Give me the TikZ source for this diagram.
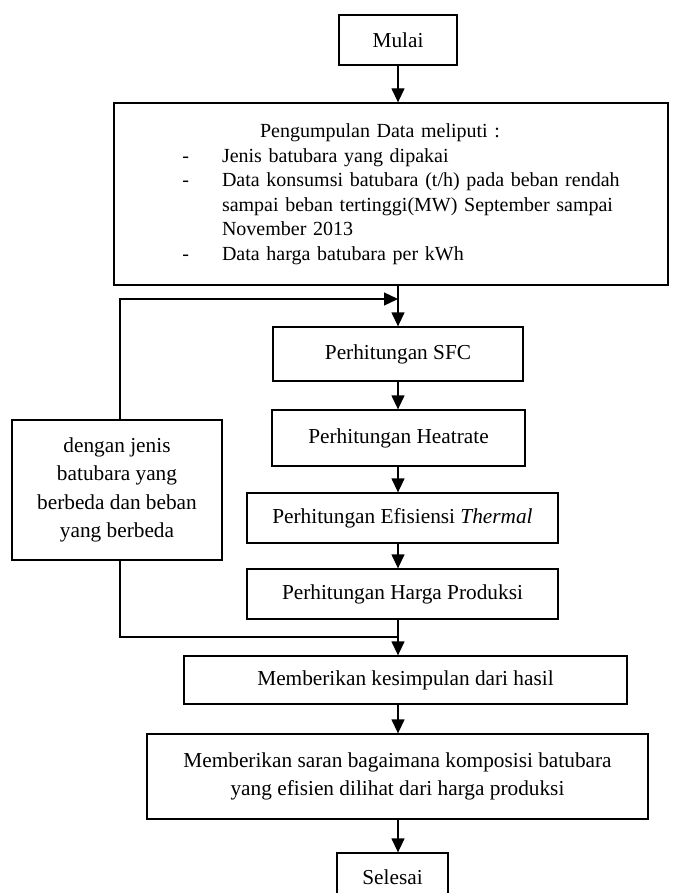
\documentclass[tikz,border=0pt]{standalone}
\usepackage{fontspec}
\setmainfont{Liberation Serif}
\usetikzlibrary{arrows.meta}

\tikzset{
  box/.style={draw, line width=1.3pt, rectangle, align=center,
    font=\fontsize{21.3}{24.5}\selectfont},
  flow/.style={line width=1.3pt, -{Triangle[length=14pt,width=13pt]}},
  garis/.style={line width=1.3pt}
}

\begin{document}
\begin{tikzpicture}[x=1pt,y=-1pt]
  \useasboundingbox (0,0) rectangle (672,893);

  % kotak-kotak
  \node[box, minimum width=118, minimum height=50] (mulai) at (398,40) {Mulai};
  \node[draw, line width=1.3pt, rectangle, minimum width=554, minimum height=182,
        text width=554, inner sep=0pt, font=\fontsize{20}{24.5}\selectfont] (data) at (391,194) {%
    \noindent\hspace*{146pt}Pengumpulan Data meliputi :\par
    \begin{list}{-}{\leftmargin=108pt \rightmargin=48pt \labelwidth=40pt \labelsep=33pt
        \topsep=0pt \partopsep=0pt \itemsep=0pt \parsep=0pt}
      \item Jenis batubara yang dipakai
      \item Data konsumsi batubara (t/h) pada beban rendah sampai beban tertinggi(MW) September sampai November 2013
      \item Data harga batubara per kWh
    \end{list}};
  \node[box, minimum width=250, minimum height=54] (sfc) at (398,354) {Perhitungan SFC};
  \node[box, minimum width=253, minimum height=56] (heat) at (398.5,438) {Perhitungan Heatrate};
  \node[box, minimum width=311, minimum height=50] (efis) at (402.5,518) {Perhitungan Efisiensi \textit{Thermal}};
  \node[box, minimum width=311, minimum height=50] (harga) at (402.5,594) {Perhitungan Harga Produksi};
  \node[box, minimum width=210, minimum height=140, font=\fontsize{21.3}{28.3}\selectfont] (ulang) at (117,490)
    {dengan jenis\\batubara yang\\berbeda dan beban\\yang berbeda};
  \node[box, minimum width=443, minimum height=48] (simpul) at (405.5,680) {Memberikan kesimpulan dari hasil};
  \node[box, minimum width=501, minimum height=85, font=\fontsize{21.3}{28.3}\selectfont] (saran) at (397.5,776.5)
    {Memberikan saran bagaimana komposisi batubara\\yang efisien dilihat dari harga produksi};
  \node[box, minimum width=111, minimum height=48] (selesai) at (392.5,877) {Selesai};

  % titik sambungan
  \coordinate (masuk) at (398,299);
  \coordinate (gabung) at (398,637);

  % panah
  \draw[flow] (mulai) -- (mulai |- data.north);
  \draw[garis] (data.south -| masuk) -- (masuk);
  \draw[flow] (masuk) -- (sfc.north -| masuk);
  \draw[flow] (sfc.south -| masuk) -- (heat.north -| masuk);
  \draw[flow] (heat.south -| masuk) -- (efis.north -| masuk);
  \draw[flow] (efis.south -| masuk) -- (harga.north -| masuk);
  \draw[flow] ([xshift=3pt]ulang.north) |- (masuk);
  \draw[garis] ([xshift=3pt]ulang.south) |- (gabung);
  \draw[flow] (harga.south -| masuk) -- (simpul.north -| masuk);
  \draw[flow] (simpul.south -| masuk) -- (saran.north -| masuk);
  \draw[flow] (saran.south -| masuk) -- (selesai.north -| masuk);
\end{tikzpicture}
\end{document}
